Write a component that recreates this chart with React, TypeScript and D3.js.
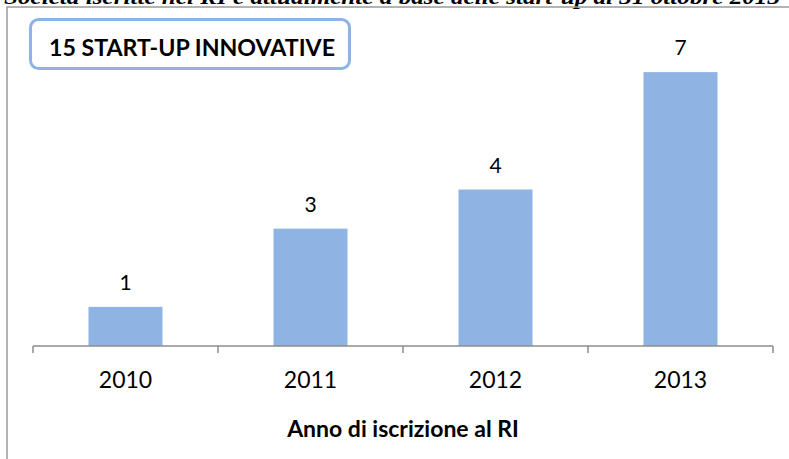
import React from "react";
import * as d3 from "d3";

const categories = ["2010", "2011", "2012", "2013"];
const values = [1, 3, 4, 7];
const chartTitle = "15 START-UP INNOVATIVE";
const axisTitle = "Anno di iscrizione al RI";
const topCaption = "Società iscritte nel RI e attualmente a base delle start-up al 31 ottobre 2013";

const W = 789;
const H = 459;

export default function App() {
  const x0 = 33;
  const x1 = 773;
  const axisY = 346;
  const x = d3.scaleBand<string>().domain(categories).range([x0, x1]).paddingInner(0.6).paddingOuter(0.3);
  const y = d3.scaleLinear().domain([0, 8]).range([axisY, 33]);
  const bandStep = (x1 - x0) / categories.length;
  const tickXs = d3.range(categories.length + 1).map((i) => x0 + i * bandStep);
  const font = "Lato, 'Open Sans', sans-serif";

  return (
    <div style={{ position: "fixed", left: 0, top: 0 }}>
      <svg width={W} height={H} style={{ display: "block", background: "#fff" }}>
        <text x={4} y={4} fontFamily="'Liberation Serif', serif" fontStyle="italic" fontWeight="bold" fontSize={20} fill="#000" textLength={776} lengthAdjust="spacingAndGlyphs">
          {topCaption}
        </text>
        <path d={`M7,${H + 5} L7,7 L${W + 5},7`} fill="none" stroke="#9a9a9a" strokeWidth={1.5} />
        <rect x={30.5} y={19.5} width={319} height={49} rx={8} ry={8} fill="#fff" stroke="#8EB4E3" strokeWidth={3} />
        <text x={49} y={56} fontFamily={font} fontWeight="bold" fontSize={23} fill="#000" textLength={286} lengthAdjust="spacingAndGlyphs">
          {chartTitle}
        </text>
        {categories.map((c, i) => (
          <rect key={c} x={x(c)} y={y(values[i])} width={x.bandwidth()} height={axisY - y(values[i])} fill="#8EB4E3" />
        ))}
        {categories.map((c, i) => (
          <text key={"l" + c} x={(x(c) as number) + x.bandwidth() / 2} y={y(values[i]) - 17} textAnchor="middle" fontFamily={font} fontSize={21} fill="#000">
            {values[i]}
          </text>
        ))}
        <line x1={x0} x2={x1} y1={axisY} y2={axisY} stroke="#8c8c8c" strokeWidth={1.5} />
        {tickXs.map((t, i) => (
          <line key={"t" + i} x1={t} x2={t} y1={axisY} y2={axisY + 7} stroke="#8c8c8c" strokeWidth={1.5} />
        ))}
        {categories.map((c) => (
          <text key={"c" + c} x={(x(c) as number) + x.bandwidth() / 2} y={388} textAnchor="middle" fontFamily={font} fontSize={23} fill="#000">
            {c}
          </text>
        ))}
        <text x={(x0 + x1) / 2} y={437} textAnchor="middle" fontFamily={font} fontWeight="bold" fontSize={23} fill="#000">
          {axisTitle}
        </text>
      </svg>
    </div>
  );
}
